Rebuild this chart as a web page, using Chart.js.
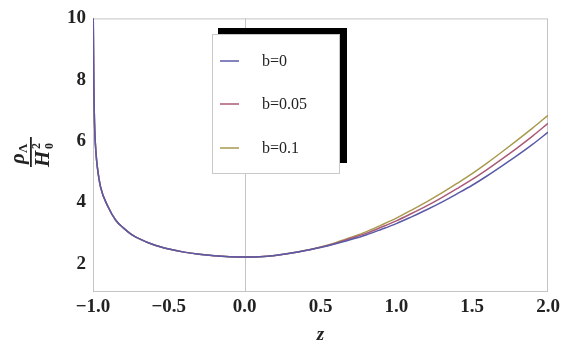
<!DOCTYPE html>
<html lang="en">
<head>
  <meta charset="UTF-8">
  <title>rho Lambda over H0^2</title>
  <script src="https://cdn.jsdelivr.net/npm/chart.js"></script>
  <style>
    html, body { margin: 0; padding: 0; background: #fff; overflow: hidden; }
  </style>
</head>
<body>
  <canvas id="rhoChart" width="565" height="348"></canvas>

  <script>
    // values
    const zValues = [-0.999, -0.995, -0.99, -0.98, -0.97, -0.95, -0.9, -0.85, -0.8, -0.75, -0.7,
      -0.6, -0.5, -0.4, -0.3, -0.2, -0.1, 0, 0.1, 0.2, 0.3, 0.4, 0.5, 0.6, 0.7, 0.8, 0.9,
      1.0, 1.1, 1.2, 1.3, 1.4, 1.5, 1.6, 1.7, 1.8, 1.9, 2.0];

    // the three curves coincide up to about z = 0.4
    const leftPart = [10.5, 8.0, 6.6, 5.6, 5.1, 4.5, 3.85, 3.42, 3.17, 2.97, 2.83,
      2.62, 2.48, 2.38, 2.31, 2.26, 2.23, 2.22, 2.23, 2.27, 2.34, 2.43];

    const b0   = leftPart.concat([2.53, 2.65, 2.79, 2.94, 3.12, 3.31, 3.53, 3.76, 4.01, 4.28, 4.56, 4.87, 5.20, 5.54, 5.90, 6.29]);
    const b005 = leftPart.concat([2.54, 2.67, 2.83, 2.99, 3.19, 3.40, 3.64, 3.89, 4.16, 4.45, 4.75, 5.08, 5.43, 5.79, 6.17, 6.58]);
    const b01  = leftPart.concat([2.55, 2.69, 2.86, 3.04, 3.26, 3.49, 3.75, 4.02, 4.31, 4.62, 4.94, 5.29, 5.66, 6.04, 6.43, 6.84]);

    const seriesLabels = ['b=0', 'b=0.05', 'b=0.1'];
    const seriesColors = ['#5a5aa8', '#aa5a78', '#a89a4e'];
    const xTicks = [-1.0, -0.5, 0.0, 0.5, 1.0, 1.5, 2.0];
    const yTicks = [2, 4, 6, 8, 10];

    const serif = '"Liberation Serif", "DejaVu Serif", serif';

    function toPoints(ys) {
      return zValues.map((z, i) => ({ x: z, y: ys[i] }));
    }

    // frame, zero line, y label and boxed legend
    const decorations = {
      id: 'decorations',
      beforeDatasetsDraw(chart) {
        const { ctx, chartArea: a, scales } = chart;
        ctx.save();
        ctx.strokeStyle = '#c4c4c4';
        ctx.lineWidth = 1;
        const x0 = Math.round(scales.x.getPixelForValue(0)) + 0.5;
        ctx.beginPath();
        ctx.moveTo(x0, a.top);
        ctx.lineTo(x0, a.bottom);
        ctx.stroke();
        ctx.strokeRect(a.left + 0.5, a.top + 0.5, a.right - a.left - 1, a.bottom - a.top - 1);
        ctx.restore();
      },
      afterDraw(chart) {
        const ctx = chart.ctx;
        ctx.save();

        // y axis label as a fraction, turned on its side
        ctx.translate(31, 152);
        ctx.rotate(-Math.PI / 2);
        ctx.fillStyle = '#222';
        ctx.textBaseline = 'alphabetic';
        ctx.font = 'italic bold 21px ' + serif;
        ctx.fillText('\u03c1', -12, -7);
        ctx.font = 'bold 13px ' + serif;
        ctx.fillText('\u039b', -1, -4);
        ctx.fillRect(-15, -1, 30, 1.8);
        ctx.font = 'italic bold 21px ' + serif;
        ctx.fillText('H', -15, 18);
        ctx.font = 'bold 12px ' + serif;
        ctx.fillText('2', 3, 9);
        ctx.fillText('0', 3, 22);
        ctx.restore();

        // legend with heavy black offset edge
        ctx.save();
        const lx = 212, ly = 34, lw = 127, lh = 139;
        ctx.fillStyle = '#000';
        ctx.fillRect(lx + 6, ly - 6, lw + 2, 6);
        ctx.fillRect(lx + lw + 1, ly - 6, 7, lh - 4);
        ctx.fillStyle = '#fff';
        ctx.fillRect(lx, ly, lw, lh);
        ctx.strokeStyle = '#c8c8c8';
        ctx.lineWidth = 1;
        ctx.strokeRect(lx + 0.5, ly + 0.5, lw, lh);
        const rows = [61, 104, 148];
        chart.data.datasets.forEach((ds, i) => {
          ctx.strokeStyle = ds.borderColor;
          ctx.lineWidth = 1.5;
          ctx.beginPath();
          ctx.moveTo(220, rows[i]);
          ctx.lineTo(239, rows[i]);
          ctx.stroke();
          ctx.fillStyle = '#222';
          ctx.font = '16px ' + serif;
          ctx.textBaseline = 'middle';
          ctx.fillText(ds.label, 262, rows[i] + 1);
        });
        ctx.restore();
      }
    };

    const ctx = document.getElementById('rhoChart').getContext('2d');
    new Chart(ctx, {
      type: 'line',
      data: {
        datasets: [b0, b005, b01].map((ys, i) => ({
          label: seriesLabels[i],
          data: toPoints(ys),
          borderColor: seriesColors[i],
          borderWidth: 1.5,
          pointRadius: 0,
          fill: false,
          cubicInterpolationMode: 'monotone'
        }))
      },
      options: {
        responsive: false,
        animation: false,
        layout: { padding: { top: 12, right: 17, left: 0, bottom: 0 } },
        plugins: {
          legend: { display: false },
          tooltip: { enabled: false }
        },
        scales: {
          x: {
            type: 'linear',
            min: -1,
            max: 2,
            grid: { display: false, drawTicks: false },
            border: { display: false },
            afterBuildTicks: (s) => { s.ticks = xTicks.map(v => ({ value: v })); },
            afterFit: (s) => { s.height = 56; },
            ticks: {
              padding: 4,
              maxRotation: 0,
              minRotation: 0,
              autoSkip: false,
              color: '#222',
              font: { family: serif, size: 19, weight: 'bold' },
              callback: (v) => v.toFixed(1).replace('-', '\u2212')
            },
            title: {
              display: true,
              text: 'z',
              color: '#222',
              padding: { top: 0, bottom: 2 },
              font: { family: serif, size: 19, weight: 'bold', style: 'italic' }
            }
          },
          y: {
            min: 1.08,
            max: 10,
            grid: { display: false, drawTicks: false },
            border: { display: false },
            afterBuildTicks: (s) => { s.ticks = yTicks.map(v => ({ value: v })); },
            afterFit: (s) => { s.width = 93; },
            ticks: {
              padding: 7,
              autoSkip: false,
              color: '#222',
              font: { family: serif, size: 19, weight: 'bold' }
            }
          }
        }
      },
      plugins: [decorations]
    });
  </script>
</body>
</html>
